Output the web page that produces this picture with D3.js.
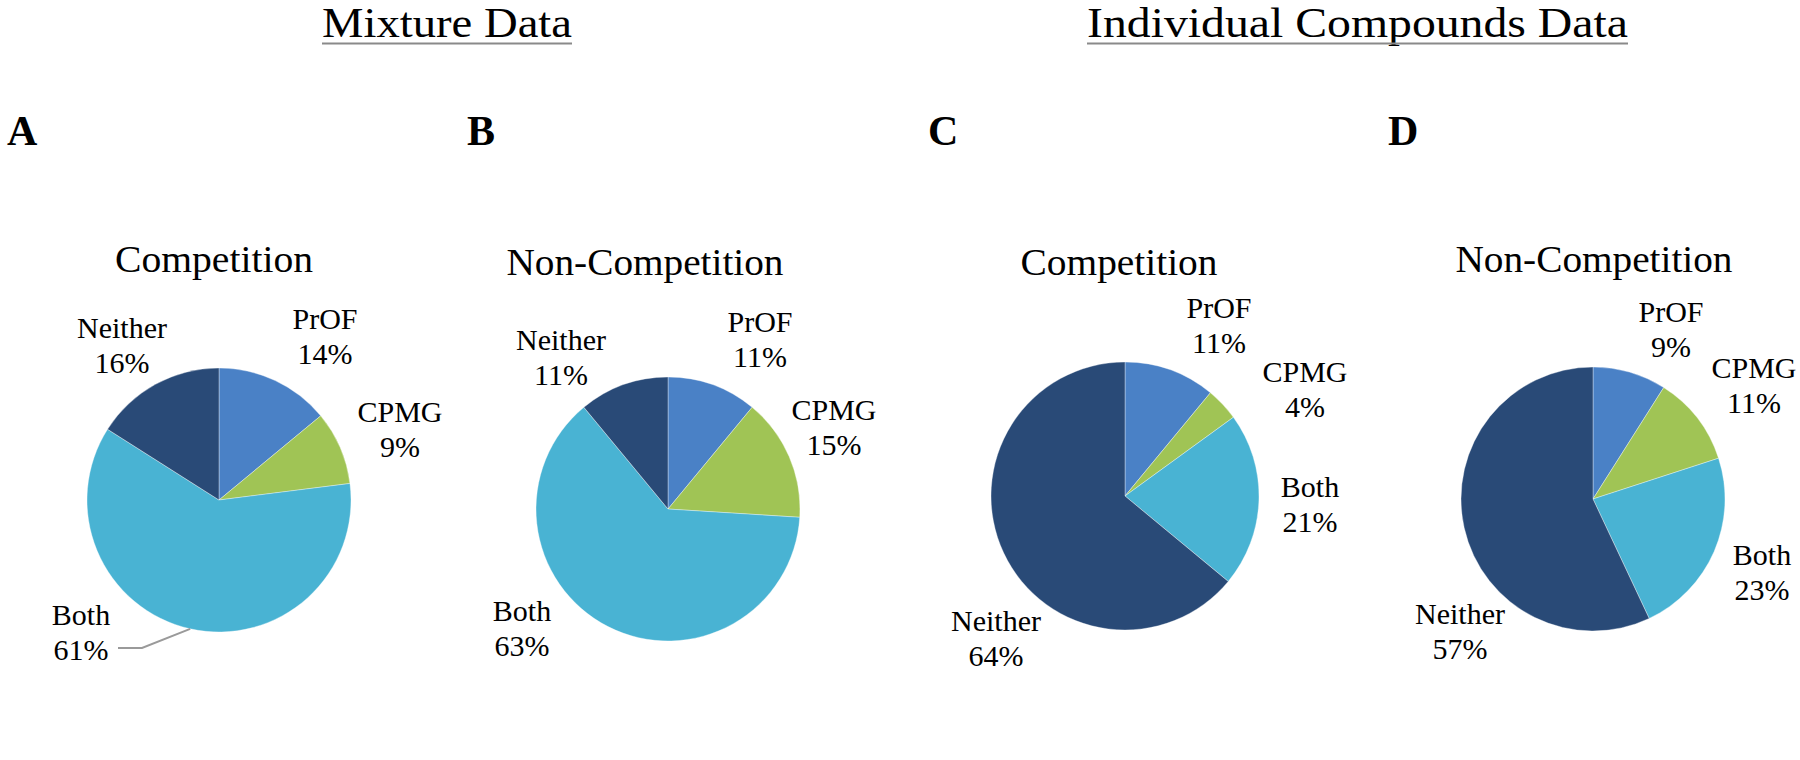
<!DOCTYPE html>
<html>
<head>
<meta charset="utf-8">
<script src="https://cdn.jsdelivr.net/npm/d3@7/dist/d3.min.js"></script>
<style>
  html, body { margin: 0; padding: 0; background: #ffffff; }
  svg { display: block; }
  text { font-family: "Liberation Serif", "DejaVu Serif", serif; fill: #000; }
</style>
</head>
<body>
<svg id="chart" width="1800" height="760"></svg>
<script>
// ---------------- data ----------------
const categories = ["PrOF", "CPMG", "Both", "Neither"];
const mixtureCompetition = [14, 9, 61, 16];
const mixtureNonCompetition = [11, 15, 63, 11];
const individualCompetition = [11, 4, 21, 64];
const individualNonCompetition = [9, 11, 23, 57];
const panelLetters = ["A", "B", "C", "D"];
const panelTitles = ["Competition", "Non-Competition", "Competition", "Non-Competition"];
const groupTitles = ["Mixture Data", "Individual Compounds Data"];

// ---------------- styles / layout ----------------
const colors = ["#4a81c6", "#a0c455", "#49b3d3", "#294a77"];
const panels = [
  { values: mixtureCompetition,       cx: 219,  cy: 500, r: 132, letterX: 7,    titleX: 214,  titleY: 272, titleW: 198,
    labels: [[106, -171], [181, -78], [-138, 125], [-97, -162]], leader: { cat: 2, pts: [[-101, 148], [-77, 148]], angle: 192.6 } },
  { values: mixtureNonCompetition,    cx: 668,  cy: 509, r: 132, letterX: 467,  titleX: 645,  titleY: 275, titleW: 277,
    labels: [[92, -177], [166, -89], [-146, 112], [-107, -159]] },
  { values: individualCompetition,    cx: 1125, cy: 496, r: 134, letterX: 928,  titleX: 1119, titleY: 275, titleW: 197,
    labels: [[94, -178], [180, -114], [185, 1], [-129, 135]] },
  { values: individualNonCompetition, cx: 1593, cy: 499, r: 132, letterX: 1388, titleX: 1594, titleY: 272, titleW: 277,
    labels: [[78, -177], [161, -121], [169, 66], [-133, 125]] }
];
const groups = [
  { x1: 322, x2: 572 },
  { x1: 1087, x2: 1628 }
];

const svg = d3.select("#chart");

// group titles with underline
groups.forEach((g, i) => {
  svg.append("text")
    .attr("x", (g.x1 + g.x2) / 2)
    .attr("y", 37)
    .attr("text-anchor", "middle")
    .attr("font-size", 42)
    .attr("textLength", g.x2 - g.x1)
    .attr("lengthAdjust", "spacingAndGlyphs")
    .text(groupTitles[i]);
  svg.append("line")
    .attr("x1", g.x1).attr("x2", g.x2)
    .attr("y1", 43.5).attr("y2", 43.5)
    .attr("stroke", "#8a8a8a")
    .attr("stroke-width", 2);
});

const pie = d3.pie().sort(null).value(d => d);

panels.forEach((p, pi) => {
  // panel letter
  svg.append("text")
    .attr("x", p.letterX)
    .attr("y", 145)
    .attr("font-size", 42)
    .attr("font-weight", "bold")
    .text(panelLetters[pi]);

  // panel title
  svg.append("text")
    .attr("x", p.titleX)
    .attr("y", p.titleY)
    .attr("text-anchor", "middle")
    .attr("font-size", 37)
    .attr("textLength", p.titleW)
    .attr("lengthAdjust", "spacingAndGlyphs")
    .text(panelTitles[pi]);

  const g = svg.append("g").attr("transform", `translate(${p.cx},${p.cy})`);
  const arc = d3.arc().innerRadius(0).outerRadius(p.r);
  const arcs = pie(p.values);

  g.selectAll("path.slice")
    .data(arcs)
    .join("path")
    .attr("class", "slice")
    .attr("d", arc)
    .attr("fill", (d, i) => colors[i])
    .attr("stroke", "#ffffff")
    .attr("stroke-opacity", 0.45)
    .attr("stroke-width", 0.8);

  // labels
  const lg = g.selectAll("g.lbl")
    .data(arcs)
    .join("g")
    .attr("class", "lbl")
    .attr("transform", (d, i) => `translate(${p.labels[i][0]},${p.labels[i][1]})`);
  lg.append("text")
    .attr("text-anchor", "middle")
    .attr("font-size", 30)
    .text((d, i) => categories[i]);
  lg.append("text")
    .attr("text-anchor", "middle")
    .attr("y", 35)
    .attr("font-size", 30)
    .text(d => d.data + "%");

  // leader line
  if (p.leader) {
    const a = p.leader.angle * Math.PI / 180;
    const end = [p.r * Math.sin(a), -p.r * Math.cos(a)];
    const pts = p.leader.pts.concat([end]);
    g.append("path")
      .attr("d", d3.line()(pts))
      .attr("fill", "none")
      .attr("stroke", "#9a9a9a")
      .attr("stroke-width", 2);
  }
});
</script>
</body>
</html>
